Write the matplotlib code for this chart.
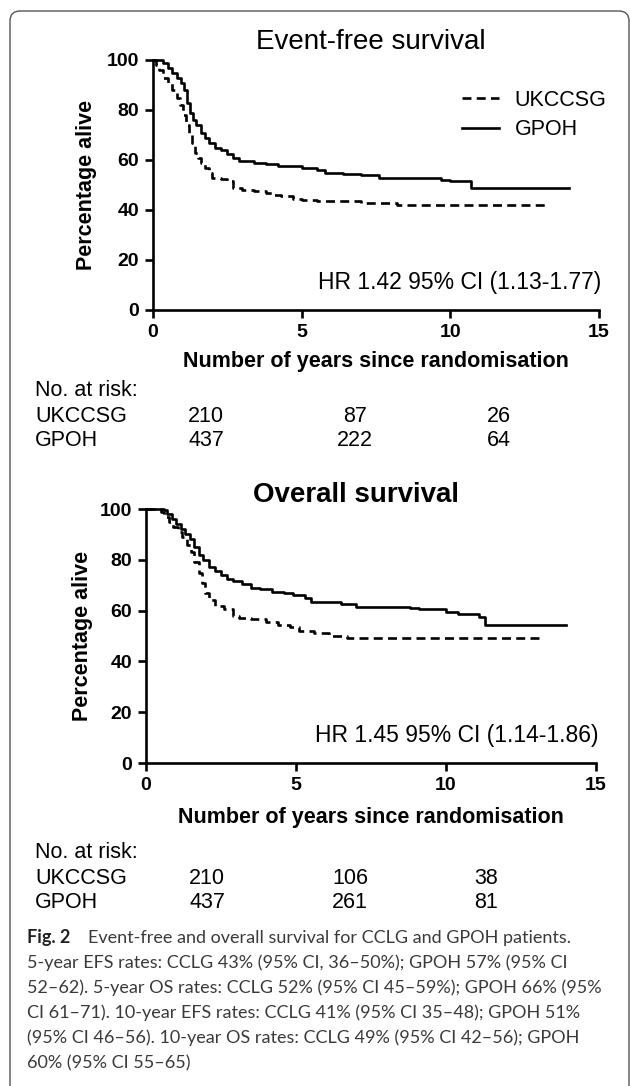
import matplotlib
matplotlib.use("Agg")
import matplotlib.pyplot as plt
from matplotlib.patches import FancyBboxPatch
from matplotlib.transforms import IdentityTransform

plt.rcParams['font.family'] = ['Liberation Sans', 'DejaVu Sans']

# ---- data ----
efs_uk_t = [0, 0.1, 0.2, 0.35, 0.5, 0.65, 0.8, 0.9, 1.0, 1.1, 1.2, 1.3, 1.4, 1.5, 1.6, 1.75, 1.9, 2.0, 2.3, 2.5, 2.7, 3.0, 3.4, 3.8, 4.0, 4.3, 4.7, 5.0, 5.5, 6.5, 7.0, 8.2, 13.3]
efs_uk_s = [100, 98, 96, 93, 91, 88, 85, 82, 78, 74, 71, 67, 63, 61, 59, 57, 55, 53, 52.5, 51.5, 49, 48, 47.5, 47, 46, 45.5, 44.5, 44, 43.8, 43.5, 43, 42, 42]

efs_gp_t = [0, 0.35, 0.5, 0.65, 0.8, 0.95, 1.05, 1.15, 1.25, 1.35, 1.45, 1.6, 1.75, 1.9, 2.1, 2.3, 2.5, 2.7, 2.9, 3.4, 3.8, 4.2, 5.0, 5.5, 5.8, 6.4, 7.0, 7.6, 9.7, 10.0, 10.7, 14.0]
efs_gp_s = [100, 99, 97, 95, 93, 91, 88, 83, 79, 76, 74, 71, 69, 67, 65, 64, 62.5, 61, 59.5, 59, 58.5, 57.5, 57, 56, 55, 54.5, 54, 53, 52, 51.5, 49, 49]

os_uk_t = [0, 0.5, 0.6, 0.75, 0.9, 1.05, 1.2, 1.35, 1.5, 1.6, 1.75, 1.85, 1.95, 2.1, 2.3, 2.6, 2.9, 3.1, 3.5, 4.0, 4.4, 4.8, 5.1, 5.6, 6.1, 6.7, 13.2]
os_uk_s = [100, 99, 97, 95, 93, 91, 89, 86, 83, 79, 75, 71, 67, 64, 62, 60.5, 58, 57, 56.5, 55.5, 54.5, 53.5, 52, 51, 50, 49.3, 49.3]

os_gp_t = [0, 0.6, 0.7, 0.85, 1.0, 1.15, 1.3, 1.45, 1.6, 1.75, 1.9, 2.1, 2.3, 2.5, 2.7, 2.9, 3.2, 3.5, 3.8, 4.2, 4.6, 4.9, 5.3, 5.5, 6.5, 7.0, 8.8, 9.1, 10.0, 10.4, 11.1, 11.3, 14.0]
os_gp_s = [100, 99.5, 98, 96, 94, 92, 90, 88, 85, 82, 80, 77, 75.5, 74, 72.5, 71.5, 70.5, 69, 68.5, 67.5, 67, 66, 65, 63.5, 62.5, 61.5, 61, 60.5, 59.5, 58.5, 57.5, 54.5, 54.5]

groups = ['UKCCSG', 'GPOH']
efs_risk = [['210', '87', '26'], ['437', '222', '64']]
os_risk = [['210', '106', '38'], ['437', '261', '81']]

caption = [
    "5-year EFS rates: CCLG 43% (95% CI, 36\u201350%); GPOH 57% (95% CI",
    "52\u201362). 5-year OS rates: CCLG 52% (95% CI 45\u201359%); GPOH 66% (95%",
    "CI 61\u201371). 10-year EFS rates: CCLG 41% (95% CI 35\u201348); GPOH 51%",
    "(95% CI 46\u201356). 10-year OS rates: CCLG 49% (95% CI 42\u201356); GPOH",
    "60% (95% CI 55\u201365)",
]

W, H = 630, 1086
fig = plt.figure(figsize=(W / 100, H / 100), dpi=100)


def px_axes(x0, x1, y_top, y_bot):
    return fig.add_axes([x0 / W, 1 - y_bot / H, (x1 - x0) / W, (y_bot - y_top) / H])


def km_panel(ax, uk_t, uk_s, gp_t, gp_s, hr, ylab_x, xlab_y):
    ax.step(uk_t, uk_s, where='post', color='black', lw=1.9,
            linestyle=(0, (3.4, 2.0)), label='UKCCSG', clip_on=False)
    ax.step(gp_t, gp_s, where='post', color='black', lw=1.9, label='GPOH', clip_on=False)
    ax.set_xlim(0, 15)
    ax.set_ylim(0, 100)
    ax.set_xticks([0, 5, 10, 15])
    ax.set_yticks([0, 20, 40, 60, 80, 100])
    for s in ['top', 'right']:
        ax.spines[s].set_visible(False)
    for s in ['left', 'bottom']:
        ax.spines[s].set_linewidth(1.9)
    ax.tick_params(width=1.9, length=6, direction='out', labelsize=14, pad=4)
    for lab in ax.get_xticklabels() + ax.get_yticklabels():
        lab.set_fontweight('bold')
    ax.set_ylabel('Percentage alive', fontsize=15.5, fontweight='bold')
    ax.yaxis.set_label_coords(ylab_x, 0.5)
    ax.set_xlabel('Number of years since randomisation', fontsize=15.5, fontweight='bold')
    ax.xaxis.set_label_coords(0.5, xlab_y)
    ax.xaxis.label.set_va('center')
    ax.yaxis.label.set_va('center')
    ax.text(1.005, 0.11, hr, transform=ax.transAxes, ha='right', va='center', fontsize=16.5)


ax1 = px_axes(153, 599, 60, 310)
km_panel(ax1, efs_uk_t, efs_uk_s, efs_gp_t, efs_gp_s, 'HR 1.42 95% CI (1.13-1.77)',
         -0.150, -0.208)
ax1.text(0.489, 1.072, 'Event-free survival', transform=ax1.transAxes,
         ha='center', va='center', fontsize=20)
ax1.legend(loc='upper left', bbox_to_anchor=(0.693, 0.88), frameon=False,
           borderpad=0, borderaxespad=0,
           fontsize=15.5, handlelength=1.7, handletextpad=0.75, labelspacing=0.38)

ax2 = px_axes(146, 596, 509, 763)
km_panel(ax2, os_uk_t, os_uk_s, os_gp_t, os_gp_s, 'HR 1.45 95% CI (1.14-1.86)',
         -0.142, -0.213)
ax2.text(0.467, 1.055, 'Overall survival', transform=ax2.transAxes,
         ha='center', va='center', fontsize=20, fontweight='bold')


def risk_table(y0, rows, xs):
    fig.text(35 / W, 1 - y0 / H, 'No. at risk:', fontsize=15.5, va='center')
    for i, g in enumerate(groups):
        y = y0 + 25 * (i + 1)
        fig.text(35 / W, 1 - y / H, g, fontsize=15.5, va='center')
        for x, v in zip(xs, rows[i]):
            fig.text(x / W, 1 - y / H, v, fontsize=15.5, va='center', ha='center')


risk_table(391, efs_risk, [206, 355, 499])
risk_table(853, os_risk, [207, 350, 486])

# caption
cap_font = ['Lato', 'DejaVu Sans']
fig.text(27 / W, 1 - 938 / H, 'Fig. 2', fontsize=13, fontweight='bold',
         va='center', family=cap_font, color='#222222')
fig.text(88 / W, 1 - 938 / H, 'Event-free and overall survival for CCLG and GPOH patients.',
         fontsize=13, va='center', family=cap_font, color='#3a3a3a')
for i, line in enumerate(caption):
    fig.text(27 / W, 1 - (963 + 25 * i) / H, line, fontsize=13, va='center',
             family=cap_font, color='#3a3a3a')

# frame around the figure (open at right/bottom edges of the crop)
frame = FancyBboxPatch((10, -40), 619, H - 11 + 40,
                       boxstyle='round,pad=0,rounding_size=10',
                       transform=IdentityTransform(), fill=False,
                       edgecolor='#555555', lw=1.0)
fig.add_artist(frame)

fig.savefig('out.png', dpi=100)
